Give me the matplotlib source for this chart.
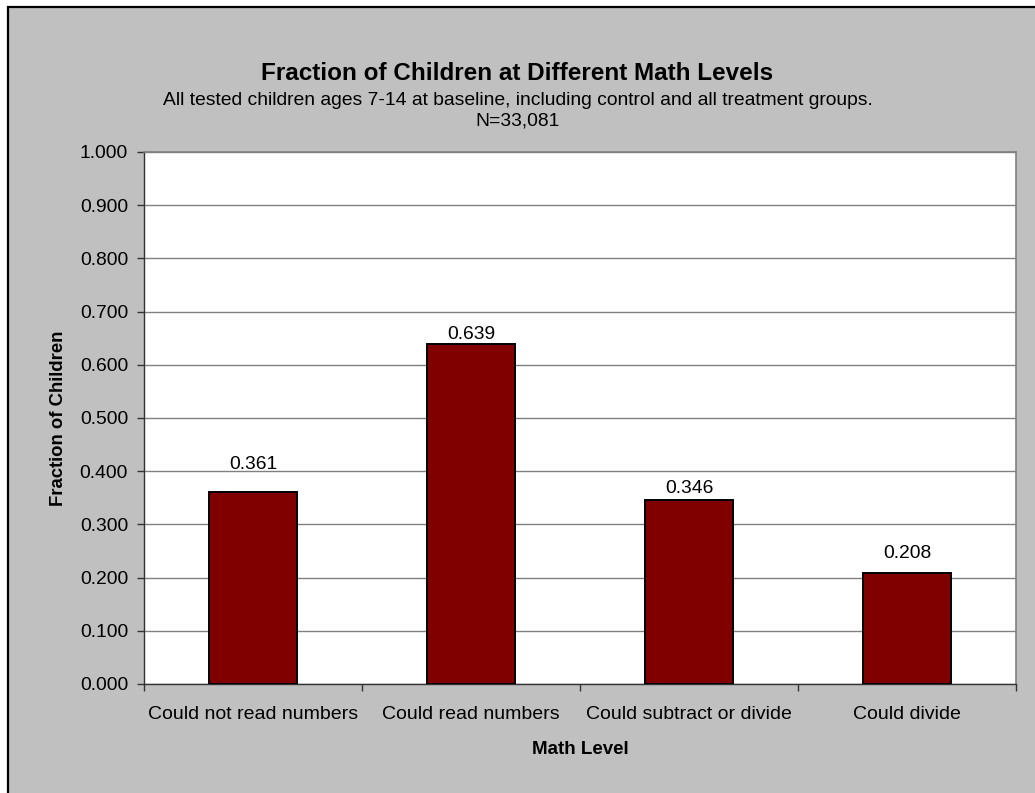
import matplotlib
matplotlib.use("Agg")
import matplotlib.pyplot as plt
from matplotlib.patches import Rectangle

plt.rcParams['font.family'] = ['Liberation Sans', 'DejaVu Sans']

# chart data
categories = ['Could not read numbers', 'Could read numbers',
              'Could subtract or divide', 'Could divide']
fractions = [0.361, 0.639, 0.346, 0.208]
yticks = [0.0, 0.1, 0.2, 0.3, 0.4, 0.5, 0.6, 0.7, 0.8, 0.9, 1.0]

title = 'Fraction of Children at Different Math Levels'
subtitle = ('All tested children ages 7-14 at baseline, including control and all treatment groups.\n'
            'N=33,081')

# per-label vertical offset (points), mimics the Excel placement
label_offsets = [13.4, 1.0, 2.0, 8.0]

W, H = 1035, 793
fig = plt.figure(figsize=(W / 100, H / 100), dpi=100, facecolor='white')

# grey chart area with a black frame (right/bottom run off the image)
frame = Rectangle((8 / W, -0.05), 1.1, (H - 7) / H + 0.05, transform=fig.transFigure,
                  facecolor='#c0c0c0', edgecolor='black', lw=1.6, zorder=-10)
fig.patches.append(frame)

ax = fig.add_axes([144 / W, (H - 684) / H, (1016 - 144) / W, (684 - 152) / H])
ax.set_facecolor('white')

x = range(len(categories))
ax.bar(x, fractions, width=0.4, color='#800000', edgecolor='black', lw=1.4, zorder=3)

for xi, v, off in zip(x, fractions, label_offsets):
    ax.annotate('%.3f' % v, (xi, v), xytext=(0, off), textcoords='offset points',
                ha='center', va='bottom', fontsize=13.9, color='black')

ax.set_xlim(-0.5, len(categories) - 0.5)
ax.set_ylim(0, 1.0)
ax.set_yticks(yticks)
ax.set_yticklabels(['%.3f' % t for t in yticks])
ax.grid(axis='y', color='#808080', lw=1.0, zorder=1)
ax.set_axisbelow(True)

ax.set_xticks(list(x))
ax.set_xticklabels(categories)
ax.set_xticks([i - 0.5 for i in range(len(categories) + 1)], minor=True)
ax.tick_params(axis='x', which='major', length=0, pad=15.5, labelsize=14)
ax.tick_params(axis='x', which='minor', length=5, width=1.0, direction='out', color='#333333')
ax.tick_params(axis='y', length=5, width=1.0, direction='out', color='#333333',
               pad=6.5, labelsize=13.9)

for side in ['top', 'right']:
    ax.spines[side].set_color('#808080')
    ax.spines[side].set_linewidth(1.2)
for side in ['left', 'bottom']:
    ax.spines[side].set_color('#333333')
    ax.spines[side].set_linewidth(1.0)

ax.set_xlabel('Math Level', fontsize=13.5, fontweight='bold', labelpad=13)
ax.set_ylabel('Fraction of Children', fontsize=13.3, fontweight='bold', labelpad=9)

fig.text(0.5, 1 - 74 / H, title, ha='center', va='center', fontsize=17.5, fontweight='bold')
fig.text(0.5, 1 - 111 / H, subtitle, ha='center', va='center', fontsize=13.9,
         linespacing=1.25)

fig.savefig('out.png', dpi=100, facecolor=fig.get_facecolor())
